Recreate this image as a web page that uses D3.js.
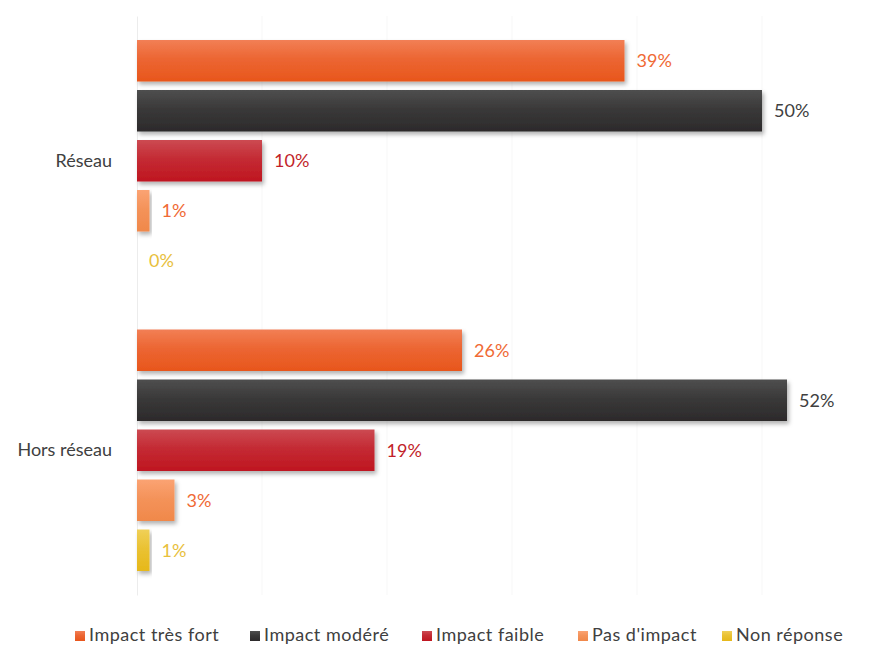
<!DOCTYPE html>
<html>
<head>
<meta charset="utf-8">
<script src="https://cdn.jsdelivr.net/npm/d3@7"></script>
<style>
  html, body { margin: 0; padding: 0; background: #ffffff; }
  svg { display: block; font-family: Lato, "Open Sans", sans-serif; }
</style>
</head>
<body>
<svg id="chart" width="869" height="646"></svg>
<script>
// Catégories (axe vertical) et séries
const categories = ["Réseau", "Hors réseau"];
const seriesNames = ["Impact très fort", "Impact modéré", "Impact faible", "Pas d'impact", "Non réponse"];
// Valeurs en % par série, dans l'ordre des catégories
const impactTresFort = [39, 26];
const impactModere   = [50, 52];
const impactFaible   = [10, 19];
const pasDImpact     = [1, 3];
const nonReponse     = [0, 1];
const gridTicks = [10, 20, 30, 40, 50];

const seriesValues = [impactTresFort, impactModere, impactFaible, pasDImpact, nonReponse];

// Couleurs : dégradé (haut, bas) et couleur des étiquettes
const fillTop    = ["#f27f55", "#4f4f4f", "#cc4a52", "#fba373", "#f0d058"];
const fillBottom = ["#e8561c", "#2c2a2b", "#bf1620", "#f0884a", "#e6b81a"];
const labelColor = ["#f06a35", "#404040", "#c21f2a", "#f06a35", "#e8c03c"];

const svg = d3.select("#chart");
const defs = svg.append("defs");

const shadow = defs.append("filter").attr("id", "barShadow")
  .attr("x", "-10%").attr("y", "-20%").attr("width", "130%").attr("height", "160%");
shadow.append("feDropShadow")
  .attr("dx", 2).attr("dy", 3).attr("stdDeviation", 2.2)
  .attr("flood-color", "#000").attr("flood-opacity", 0.3);

seriesNames.forEach((s, i) => {
  const g = defs.append("linearGradient").attr("id", "grad" + i)
    .attr("x1", 0).attr("y1", 0).attr("x2", 0).attr("y2", 1);
  g.append("stop").attr("offset", "0%").attr("stop-color", fillTop[i]);
  g.append("stop").attr("offset", "45%").attr("stop-color", d3.interpolateRgb(fillTop[i], fillBottom[i])(0.6));
  g.append("stop").attr("offset", "100%").attr("stop-color", fillBottom[i]);
});

// Échelles
const x = d3.scaleLinear().domain([0, 60]).range([137, 887]);
const y0 = d3.scaleBand().domain(categories).range([16, 595]).padding(0);
const y1 = d3.scaleBand().domain(seriesNames)
  .range([24, y0.bandwidth() - 24]).paddingInner(0.17).paddingOuter(0);

// Quadrillage vertical
svg.append("g").selectAll("line").data(gridTicks).join("line")
  .attr("x1", d => x(d)).attr("x2", d => x(d))
  .attr("y1", 16).attr("y2", 595)
  .attr("stroke", "#f7f7f7").attr("stroke-width", 1);

// Axe vertical
const yAxis = d3.axisLeft(y0).tickSize(0).tickPadding(25);
const axisG = svg.append("g").attr("transform", `translate(${x(0)},0)`).call(yAxis);
axisG.select(".domain").attr("stroke", "#ececec");
axisG.selectAll("text")
  .attr("font-family", "Lato, 'Open Sans', sans-serif")
  .attr("font-size", 18).attr("fill", "#404040");

// Barres
const rows = [];
categories.forEach((c, ci) => {
  seriesNames.forEach((s, si) => {
    rows.push({ cat: c, series: s, si, value: seriesValues[si][ci] });
  });
});

svg.append("g").selectAll("rect").data(rows).join("rect")
  .attr("x", x(0))
  .attr("y", d => y0(d.cat) + y1(d.series))
  .attr("width", d => x(d.value) - x(0))
  .attr("height", y1.bandwidth())
  .attr("fill", d => `url(#grad${d.si})`)
  .attr("filter", d => d.value > 0 ? "url(#barShadow)" : null);

// Étiquettes de valeurs
svg.append("g").selectAll("text").data(rows).join("text")
  .attr("x", d => x(d.value) + 12)
  .attr("y", d => y0(d.cat) + y1(d.series) + y1.bandwidth() / 2)
  .attr("dy", "0.35em")
  .attr("font-size", 18)
  .attr("fill", d => labelColor[d.si])
  .text(d => d.value + "%");

// Légende
const legendX = [75, 250, 422, 578, 722];
const legend = svg.append("g");
seriesNames.forEach((s, i) => {
  const g = legend.append("g").attr("transform", `translate(${legendX[i]},635)`);
  g.append("rect").attr("x", 0).attr("y", -4).attr("width", 10).attr("height", 10)
    .attr("fill", `url(#grad${i})`);
  g.append("text").attr("x", 14).attr("y", 0).attr("dy", "0.35em")
    .attr("font-size", 18).attr("letter-spacing", 0.5)
    .attr("fill", "#404040").text(s);
});
</script>
</body>
</html>
